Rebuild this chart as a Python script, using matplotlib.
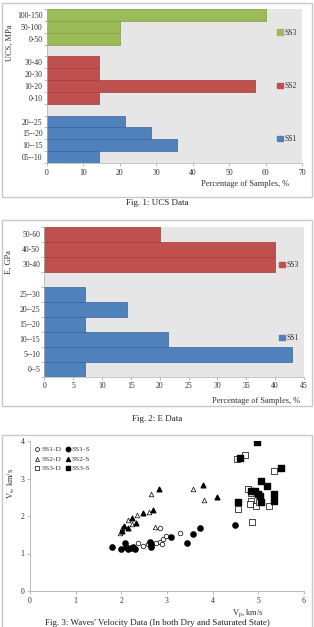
import matplotlib
matplotlib.use("Agg")
import matplotlib.pyplot as plt
from matplotlib.patches import Rectangle, Patch
import numpy as np

plt.rcParams['font.family'] = ['Liberation Serif', 'DejaVu Serif']
plt.rcParams['mathtext.fontset'] = 'stix'

# ---------------- data ----------------
ucs_ss1_labels = ["05--10", "10--15", "15--20", "20--25"]
ucs_ss1_values = [14.3, 35.7, 28.6, 21.4]
ucs_ss2_labels = ["0-10", "10-20", "20-30", "30-40"]
ucs_ss2_values = [14.3, 57.1, 14.3, 14.3]
ucs_ss3_labels = ["0-50", "50-100", "100-150"]
ucs_ss3_values = [20.0, 20.0, 60.0]

e_ss1_labels = ["0--5", "5--10", "10--15", "15--20", "20--25", "25--30"]
e_ss1_values = [7.1, 42.9, 21.4, 7.1, 14.3, 7.1]
e_ss3_labels = ["30-40", "40-50", "50-60"]
e_ss3_values = [40.0, 40.0, 20.0]

ss1_d_vp = [2.36, 2.47, 2.58, 2.66, 2.77, 2.85, 2.88, 2.92, 2.97, 3.28, 2.85]
ss1_d_vs = [1.27, 1.20, 1.25, 1.27, 1.29, 1.32, 1.25, 1.40, 1.47, 1.54, 1.67]
ss1_s_vp = [1.79, 1.99, 2.07, 2.10, 2.15, 2.21, 2.26, 2.31, 2.63, 2.64, 2.66, 3.09, 3.43, 3.56, 3.72, 4.49]
ss1_s_vs = [1.18, 1.11, 1.27, 1.18, 1.12, 1.14, 1.18, 1.12, 1.30, 1.18, 1.23, 1.45, 1.29, 1.52, 1.69, 1.75]
ss2_d_vp = [1.97, 2.02, 2.15, 2.24, 2.34, 2.61, 2.66, 2.74, 3.56, 3.82]
ss2_d_vs = [1.54, 1.67, 1.89, 1.79, 2.04, 2.10, 2.59, 1.72, 2.72, 2.43]
ss2_s_vp = [2.01, 2.06, 2.15, 2.23, 2.32, 2.47, 2.69, 2.83, 3.78, 4.09]
ss2_s_vs = [1.60, 1.73, 1.69, 1.96, 1.82, 2.09, 2.16, 2.71, 2.84, 2.52]
ss3_d_vp = [4.54, 4.71, 4.78, 4.85, 4.85, 4.82, 4.95, 5.02, 4.56, 4.87, 5.24, 5.35]
ss3_d_vs = [3.53, 3.63, 2.72, 2.62, 2.41, 2.31, 2.28, 2.37, 2.19, 1.85, 2.28, 3.20]
ss3_s_vp = [4.60, 4.98, 4.56, 4.85, 4.93, 5.00, 5.04, 5.06, 5.20, 5.06, 5.35, 5.34, 5.50]
ss3_s_vs = [3.56, 3.98, 2.38, 2.68, 2.68, 2.58, 2.54, 2.93, 2.80, 2.37, 2.58, 2.41, 3.27]

BLUE, RED, GREEN = "#4F81BD", "#C0504D", "#9BBB59"
EDGE = {BLUE: "#3B6597", RED: "#9E3E3B", GREEN: "#7E9C45"}
BG = "#E6E6E6"
TXT = "#303030"
FS = 5.6

W, H = 314, 627
fig = plt.figure(figsize=(W / 100, H / 100), dpi=100)


def fx(px):
    return px / W


def fy(py):
    return 1 - py / H


def border(y0, y1):
    fig.patches.append(Rectangle((fx(1.5), fy(y1)), fx(310.5), (y1 - y0) / H,
                                 transform=fig.transFigure, fill=False,
                                 edgecolor="#C8C8C8", linewidth=1.0))


def axes_px(x0, x1, y0, y1):
    return fig.add_axes([fx(x0), fy(y1), fx(x1 - x0), (y1 - y0) / H])


def grouped_barh(ax, groups, xmax, xstep, legend_spacing):
    pos = 0
    ticks, labels, handles = [], [], []
    for gi, (labs, vals, col, name) in enumerate(groups):
        if gi > 0:
            pos += 1
        ys = np.arange(pos, pos + len(labs))
        ax.barh(ys, vals, height=1.0, color=col, edgecolor=EDGE[col], linewidth=0.5, zorder=2)
        ticks += list(ys)
        labels += labs
        handles.append((Patch(facecolor=col, edgecolor=col), name))
        pos += len(labs)
    ax.set_ylim(-0.5, pos - 0.5)
    ax.set_xlim(0, xmax)
    ax.set_facecolor(BG)
    ax.set_yticks(ticks)
    ax.set_yticklabels(labels, fontsize=FS, color=TXT)
    ax.set_yticks(np.arange(-0.5, pos, 1.0), minor=True)
    ax.tick_params(axis='y', which='major', length=0, pad=3)
    ax.tick_params(axis='y', which='minor', length=2, color="#A0A0A0", width=0.5)
    ax.set_xticks(np.arange(0, xmax + 0.1, xstep))
    ax.tick_params(axis='x', labelsize=FS, labelcolor=TXT, length=2, color="#A0A0A0", width=0.5, pad=2)
    for s in ['top', 'right']:
        ax.spines[s].set_visible(False)
    for s in ['left', 'bottom']:
        ax.spines[s].set_color("#B0B0B0")
        ax.spines[s].set_linewidth(0.5)
    handles = handles[::-1]
    ax.legend([h for h, _ in handles], [n for _, n in handles], loc='center right',
              bbox_to_anchor=(1.0, 0.5), frameon=False, fontsize=FS,
              handlelength=0.7, handleheight=0.7, handletextpad=0.3,
              labelspacing=legend_spacing, borderaxespad=0.2, labelcolor=TXT)


# ---------------- Panel 1: UCS ----------------
border(2.5, 197)
ax1 = axes_px(46.7, 302, 9, 163)
grouped_barh(ax1, [(ucs_ss1_labels, ucs_ss1_values, BLUE, "SS1"),
                   (ucs_ss2_labels, ucs_ss2_values, RED, "SS2"),
                   (ucs_ss3_labels, ucs_ss3_values, GREEN, "SS3")], 70, 10, 5.8)
fig.text(fx(10), fy(43), "UCS, MPa", rotation=90, ha='center', va='center', fontsize=FS + 0.4, color=TXT)
fig.text(fx(245), fy(184), "Percentage of Samples, %", ha='center', va='center', fontsize=FS + 0.4, color=TXT)
fig.text(0.5, fy(203), "Fig. 1: UCS Data", ha='center', va='center', fontsize=6.5, color="#202020")

# ---------------- Panel 2: E ----------------
border(220, 406)
ax2 = axes_px(44.3, 304, 226.7, 376.7)
grouped_barh(ax2, [(e_ss1_labels, e_ss1_values, BLUE, "SS1"),
                   (e_ss3_labels, e_ss3_values, RED, "SS3")], 45, 5, 8.4)
fig.text(fx(9), fy(262), "E, GPa", rotation=90, ha='center', va='center', fontsize=FS + 0.4, color=TXT)
fig.text(fx(256), fy(401), "Percentage of Samples, %", ha='center', va='center', fontsize=FS + 0.4, color=TXT)
fig.text(0.5, fy(419), "Fig. 2: E Data", ha='center', va='center', fontsize=6.5, color="#202020")

# ---------------- Panel 3: velocities ----------------
border(435, 640)
ax3 = axes_px(30, 304, 441, 591)
ms = 11
ax3.scatter(ss1_d_vp, ss1_d_vs, s=ms, marker='o', facecolors='white', edgecolors='black', linewidths=0.5, label="SS1-D", zorder=3)
ax3.scatter(ss2_d_vp, ss2_d_vs, s=ms, marker='^', facecolors='white', edgecolors='black', linewidths=0.5, label="SS2-D", zorder=3)
ax3.scatter(ss3_d_vp, ss3_d_vs, s=ms + 3, marker='s', facecolors='white', edgecolors='black', linewidths=0.5, label="SS3-D", zorder=3)
ax3.scatter(ss1_s_vp, ss1_s_vs, s=ms + 3, marker='o', color='black', label="SS1-S", zorder=3)
ax3.scatter(ss2_s_vp, ss2_s_vs, s=ms, marker='^', color='black', label="SS2-S", zorder=3)
ax3.scatter(ss3_s_vp, ss3_s_vs, s=ms + 4, marker='s', color='black', label="SS3-S", zorder=3)
ax3.set_xlim(0, 6)
ax3.set_ylim(0, 4)
ax3.set_xticks(range(0, 7))
ax3.set_yticks(range(0, 5))
ax3.tick_params(labelsize=FS, labelcolor=TXT, length=2, color="#A0A0A0", width=0.5, pad=2)
for s in ['top', 'right']:
    ax3.spines[s].set_visible(False)
for s in ['left', 'bottom']:
    ax3.spines[s].set_color("#B0B0B0")
    ax3.spines[s].set_linewidth(0.6)
ax3.legend(loc='upper left', ncol=2, frameon=False, fontsize=FS - 0.3, handlelength=0.6,
           handletextpad=0.2, columnspacing=0.6, labelspacing=0.45, borderaxespad=0.3,
           labelcolor=TXT, markerscale=0.85)
fig.text(fx(11), fy(483), "V$_\\mathregular{s}$, km/s", rotation=90, ha='center', va='center', fontsize=FS + 0.4, color=TXT)
fig.text(fx(248), fy(613), "V$_\\mathregular{p}$, km/s", ha='center', va='center', fontsize=FS + 0.4, color=TXT)
fig.text(0.5, fy(623), "Fig. 3: Waves' Velocity Data (In both Dry and Saturated State)", ha='center',
         va='center', fontsize=6.5, color="#202020",
         bbox=dict(facecolor='white', edgecolor='none', pad=0.5))

fig.savefig("out.png", dpi=100, facecolor='white')
